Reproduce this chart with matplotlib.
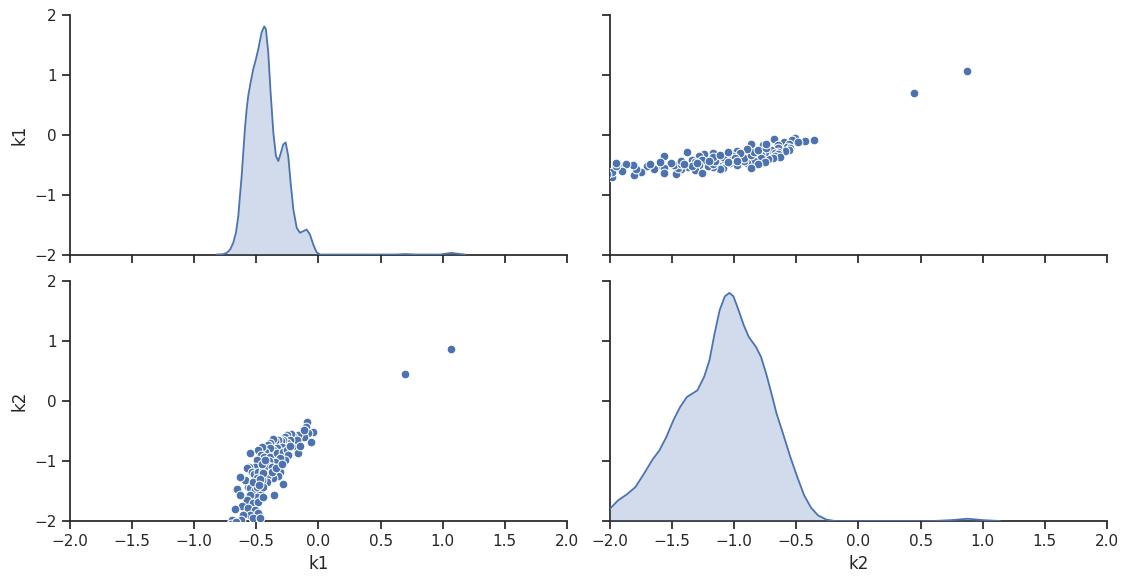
import matplotlib
matplotlib.use("Agg")
import matplotlib.pyplot as plt
import seaborn as sns
import numpy as np

sns.set_theme(style="ticks", context="notebook")
plt.rcParams['font.family'] = ['DejaVu Sans']

# ---- scatter data (k1, k2) ----
k1 = [-0.090, -0.101, -0.047, -0.082, -0.063, -0.117, -0.162, -0.203, -0.224, -0.251,
      -0.270, -0.170, -0.162, -0.176, -0.229, -0.256, -0.283, -0.304, -0.323, -0.350,
      -0.369, -0.390, -0.404, -0.296, -0.337, -0.363, -0.390, -0.431, -0.457, -0.484,
      -0.465, -0.439, -0.390, -0.337, -0.283, -0.256, -0.243, -0.270, -0.310, -0.350,
      -0.396, -0.431, -0.471, -0.498, -0.511, -0.551, -0.557, -0.578, -0.538, -0.519,
      -0.484, -0.444, -0.404, -0.377, -0.310, -0.323, -0.363, -0.417, -0.417, -0.457,
      -0.498, -0.538, -0.565, -0.591, -0.632, -0.659, -0.551, -0.511, -0.471, -0.498,
      -0.551, -0.578, -0.524, -0.484, -0.632, -0.618, -0.672, -0.565, -0.511, -0.551,
      -0.484, -0.605, -0.699, -0.626, -0.524, -0.471, -0.288, -0.358, -0.492, -0.524,
      -0.444, -0.377, -0.342, -0.296, -0.229, -0.149, -0.117, -0.700, -0.620, -0.660,
      -0.455, -0.445, -0.470, -0.430, -0.480, -0.450, 0.700, 1.070]
k2 = [-0.354, -0.432, -0.510, -0.533, -0.683, -0.600, -0.561, -0.577, -0.549, -0.561,
      -0.589, -0.767, -0.867, -0.644, -0.644, -0.700, -0.644, -0.672, -0.644, -0.672,
      -0.633, -0.689, -0.728, -0.756, -0.784, -0.812, -0.784, -0.840, -0.756, -0.812,
      -0.895, -0.923, -0.923, -0.867, -0.840, -0.812, -0.895, -0.979, -0.951, -1.007,
      -0.990, -1.063, -1.035, -0.979, -1.091, -0.867, -1.091, -1.118, -1.174, -1.213,
      -1.174, -1.157, -1.079, -1.091, -1.174, -1.247, -1.286, -1.258, -1.342, -1.314,
      -1.286, -1.369, -1.425, -1.314, -1.258, -1.470, -1.453, -1.481, -1.509, -1.592,
      -1.565, -1.648, -1.704, -1.676, -1.565, -1.749, -1.805, -1.788, -1.816, -1.899,
      -1.871, -1.899, -1.983, -1.983, -1.955, -1.955, -1.381, -1.565, -1.425, -1.342,
      -1.425, -1.174, -1.118, -1.046, -0.745, -0.745, -0.488, -2.050, -2.100, -2.020,
      -1.050, -1.200, -1.300, -0.980, -1.400, -1.600, 0.450, 0.870]

# ---- diagonal density curves (relative density) ----
k1_grid = [-0.82, -0.77, -0.739, -0.710, -0.686, -0.664, -0.645, -0.632, -0.618, -0.605,
           -0.592, -0.578, -0.565, -0.546, -0.525, -0.503, -0.484, -0.471, -0.457, -0.436,
           -0.423, -0.404, -0.385, -0.363, -0.342, -0.323, -0.302, -0.283,
           -0.264, -0.243, -0.224, -0.202, -0.175, -0.149, -0.122, -0.095, -0.068, -0.042,
           -0.015, 0.012, 0.62, 0.70, 0.78, 0.98, 1.03, 1.07, 1.11, 1.18]
k1_dens = [0.0, 0.001, 0.007, 0.022, 0.051, 0.095, 0.168, 0.255, 0.343, 0.445,
           0.547, 0.634, 0.693, 0.751, 0.809, 0.853, 0.897, 0.933, 0.970, 0.996,
           0.984, 0.882, 0.707, 0.532, 0.430, 0.408, 0.445, 0.481,
           0.489, 0.430, 0.314, 0.197, 0.117, 0.095, 0.102, 0.109, 0.087, 0.044,
           0.010, 0.0, 0.0, 0.002, 0.0, 0.0, 0.004, 0.007, 0.004, 0.0]

k2_grid = [-2.04, -2.0, -1.934, -1.864, -1.795, -1.726, -1.657, -1.601, -1.546, -1.490,
           -1.435, -1.380, -1.296, -1.242, -1.199, -1.158, -1.117, -1.075, -1.039, -1.006,
           -0.965, -0.923, -0.882, -0.825, -0.784, -0.743, -0.700, -0.659, -0.603, -0.548,
           -0.492, -0.437, -0.382, -0.326, -0.257, -0.188, 0.60, 0.75, 0.88, 1.00, 1.14]
k2_dens = [0.040, 0.054, 0.091, 0.117, 0.149, 0.208, 0.270, 0.311, 0.369, 0.442,
           0.501, 0.545, 0.574, 0.633, 0.706, 0.823, 0.926, 0.987, 1.002, 0.987,
           0.926, 0.860, 0.808, 0.765, 0.721, 0.648, 0.560, 0.472, 0.377, 0.281,
           0.193, 0.113, 0.059, 0.025, 0.006, 0.0, 0.0, 0.004, 0.010, 0.004, 0.0]

names = ["k1", "k2"]
values = {"k1": k1, "k2": k2}
curves = {"k1": (k1_grid, k1_dens), "k2": (k2_grid, k2_dens)}
color = sns.color_palette("deep")[0]

fig, axes = plt.subplots(2, 2, figsize=(11.3, 5.83), dpi=100, sharex="col", sharey="row")
fig.subplots_adjust(left=0.0619, right=0.9796, top=0.9743, bottom=0.1063,
                    wspace=0.0865, hspace=0.1125)

minus = lambda s: s.replace("-", "\u2212")

for i, yname in enumerate(names):
    for j, xname in enumerate(names):
        ax = axes[i, j]
        if i == j:
            dax = ax.twinx()
            dax.set_axis_off()
            gx, gy = curves[xname]
            dax.fill_between(gx, 0, gy, color=color, alpha=0.25, linewidth=0)
            dax.plot(gx, gy, color=color, linewidth=1.3, solid_joinstyle="round")
            dax.set_ylim(0, max(gy) * 1.05)
        else:
            ax.scatter(values[xname], values[yname], s=40, color=color,
                       edgecolor="white", linewidth=0.75, zorder=3)
        ax.set_xlim(-2, 2)
        ax.set_ylim(-2, 2)
        ax.set_xticks(np.arange(-2, 2.01, 0.5))
        ax.set_yticks([-2, -1, 0, 1, 2])
        ax.yaxis.set_major_formatter(matplotlib.ticker.FuncFormatter(
            lambda v, p: minus(f"{int(round(v))}")))
        ax.xaxis.set_major_formatter(matplotlib.ticker.FuncFormatter(
            lambda v, p: minus(f"{v:.1f}")))
        sns.despine(ax=ax)
        if i == 1:
            ax.set_xlabel(xname)
        if j == 0:
            ax.set_ylabel(yname)

fig.savefig("out.png", dpi=100)
